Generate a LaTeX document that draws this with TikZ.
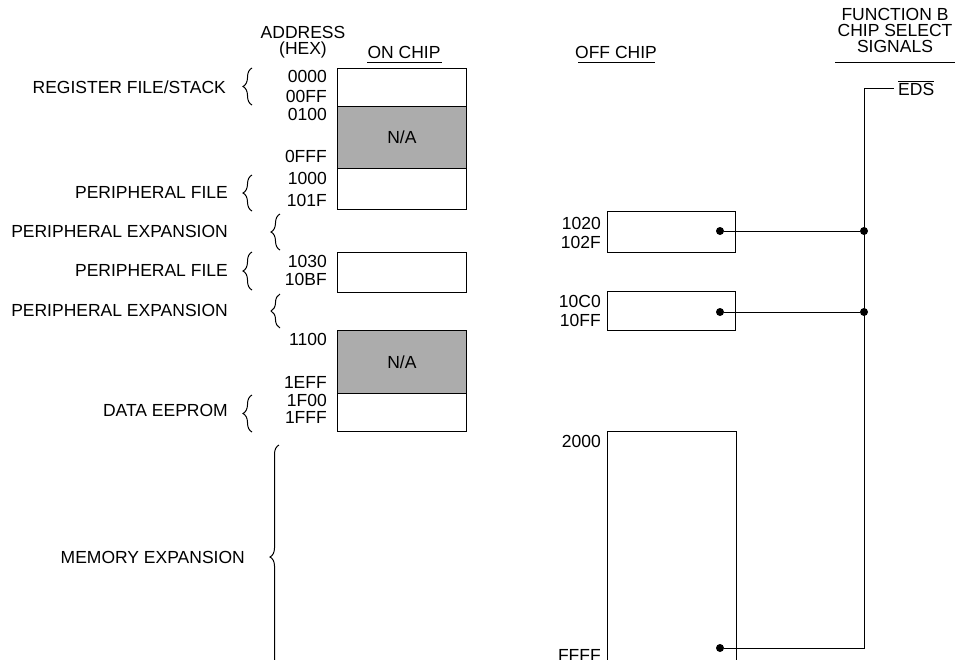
\documentclass[tikz,border=0pt]{standalone}
\usepackage{fontspec}
\setmainfont{Liberation Sans}
\usetikzlibrary{decorations.pathreplacing}
\definecolor{nagray}{RGB}{172,172,172}
\tikzset{
  every node/.style={font=\fontsize{17.5}{16}\selectfont, inner sep=0pt},
  lbl/.style={anchor=east},
  ttl/.style={align=center},
  mem/.style={draw, line width=0.8pt, anchor=north west, minimum width=129pt},
  na/.style={mem, fill=nagray},
  brc/.style={decorate, decoration={brace, amplitude=9pt}, line width=1pt},
  dot/.style={circle, fill=black, minimum size=8pt},
  wire/.style={line width=0.8pt},
  uline/.style={line width=0.8pt}
}
\begin{document}
\begin{tikzpicture}[x=1pt, y=-1pt]
\clip (0,0) rectangle (959,659);
\fill[white] (0,0) rectangle (959,659);

% headings
\node[ttl] (addr) at (303,42) {ADDRESS\\(HEX)};
\node (onchip) at (404,52) {ON CHIP};
\coordinate (on1) at (367,62);
\coordinate (on2) at (442,62);
\draw[uline] (on1) -- (on2);
\node (offchip) at (616,52) {OFF CHIP};
\coordinate (of1) at (578,62);
\coordinate (of2) at (655,62);
\draw[uline] (of1) -- (of2);
\node[ttl] (func) at (895,30) {FUNCTION B\\CHIP SELECT\\SIGNALS};
\coordinate (fu1) at (835,62);
\coordinate (fu2) at (955,62);
\draw[uline] (fu1) -- (fu2);

% on-chip boxes
\node[mem, minimum height=38pt] (rf) at (337,68) {};
\node[na, minimum height=62pt] (na1) at (337,106) {N/A};
\node[mem, minimum height=41pt] (pf1) at (337,168) {};
\node[mem, minimum height=40pt] (pf2) at (337,252) {};
\node[na, minimum height=63pt] (na2) at (337,330) {N/A};
\node[mem, minimum height=38pt] (ee) at (337,393) {};

% address labels
\node[lbl] at (327,76) {0000};
\node[lbl] at (327,96) {00FF};
\node[lbl] at (327,114) {0100};
\node[lbl] at (327,156) {0FFF};
\node[lbl] at (327,178) {1000};
\node[lbl] at (327,200) {101F};
\node[lbl] at (327,261) {1030};
\node[lbl] at (327,279) {10BF};
\node[lbl] at (327,339) {1100};
\node[lbl] at (327,382) {1EFF};
\node[lbl] at (327,400) {1F00};
\node[lbl] at (327,417) {1FFF};

% region names and braces
\node[lbl] at (226,87) {REGISTER FILE/STACK};
\draw[brc] (252,105) -- (252,68);
\node[lbl] at (228,192) {PERIPHERAL FILE};
\draw[brc] (252,211) -- (252,175);
\node[lbl] at (228,231) {PERIPHERAL EXPANSION};
\draw[brc] (280,250) -- (280,214);
\node[lbl] at (228,270) {PERIPHERAL FILE};
\draw[brc] (252,290) -- (252,252);
\node[lbl] at (228,310) {PERIPHERAL EXPANSION};
\draw[brc] (280,328) -- (280,294);
\node[lbl] at (228,410) {DATA EEPROM};
\draw[brc] (252,432) -- (252,395);
\node[lbl] at (245,557) {MEMORY EXPANSION};
\draw[brc] (279,669) -- (279,445);

% off-chip boxes
\node[mem, minimum height=41pt, minimum width=128pt] (oc1) at (607,211) {};
\node[mem, minimum height=39pt, minimum width=128pt] (oc2) at (607,291) {};
\node[mem, minimum height=260pt, minimum width=129pt] (oc3) at (607,431) {};
\node[lbl] at (601,223) {1020};
\node[lbl] at (601,242) {102F};
\node[lbl] at (601,301) {10C0};
\node[lbl] at (601,320) {10FF};
\node[lbl] at (601,441) {2000};
\node[lbl] at (601,655) {FFFF};

% chip select wiring
\node[dot] (d1) at (720,231) {};
\node[dot] (d2) at (720,312) {};
\node[dot] (d3) at (720,648) {};
\node[dot] (j1) at (864,231) {};
\node[dot] (j2) at (864,312) {};
\coordinate (jb) at (864,648);
\coordinate (jt) at (864,88);
\coordinate (eend) at (894,88);
\node[anchor=west] (eds) at (898,88) {$\overline{\mbox{EDS}}$};
\draw[wire] (d1) -- (j1);
\draw[wire] (d2) -- (j2);
\draw[wire] (d3) -- (jb) -- (jt) -- (eend);
\end{tikzpicture}
\end{document}
